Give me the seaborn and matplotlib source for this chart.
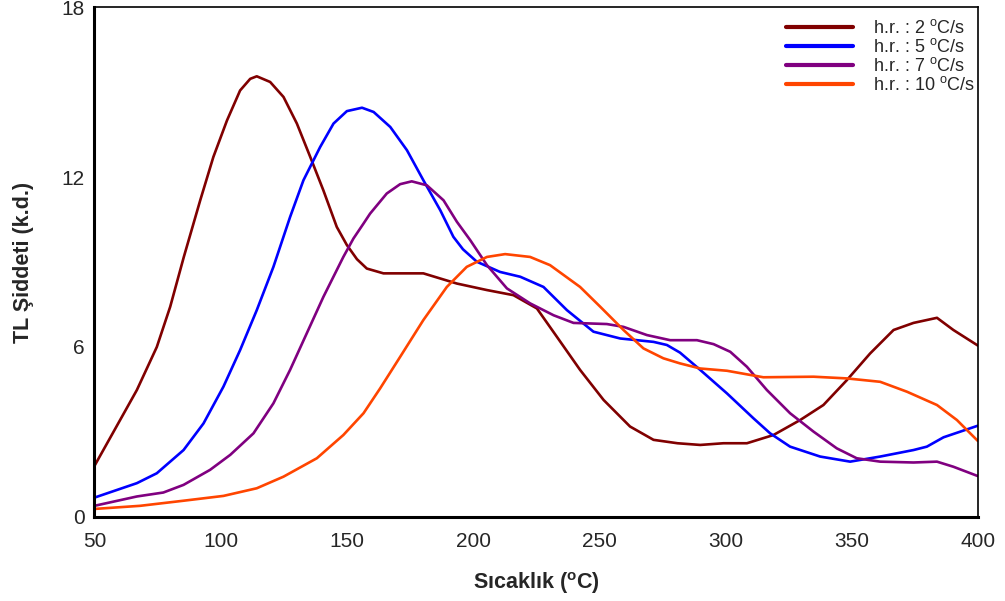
"""TL glow curves at different heating rates."""

import matplotlib.pyplot as plt
import numpy as np
import pandas as pd
import seaborn as sns
from matplotlib.ticker import MultipleLocator

# Data (temperature in C, TL intensity in a.u.)
x_hr2 = [50, 66.8, 74.7, 80, 85.4, 91.9, 97.1, 102.5, 107.7, 111.7, 114.3, 119.6,
         124.9, 130.2, 135.5, 140.7, 146, 150, 154, 157.9, 164.5, 180.3, 193.6,
         205.5, 216, 225.3, 233.2, 242.4, 251.7, 262.2, 271.5, 281, 290, 299.2,
         308.5, 319, 329.6, 338.8, 348.1, 357.3, 366.6, 374.5, 383.8, 390.3, 400]
y_hr2 = [1.80, 4.48, 6.0, 7.42, 9.18, 11.18, 12.71, 14.0, 15.06, 15.47, 15.56, 15.36,
         14.83, 13.89, 12.71, 11.53, 10.24, 9.60, 9.10, 8.77, 8.60, 8.60, 8.24,
         8.01, 7.83, 7.36, 6.36, 5.19, 4.13, 3.19, 2.72, 2.60, 2.54, 2.60,
         2.60, 2.89, 3.42, 3.95, 4.83, 5.77, 6.60, 6.85, 7.03, 6.60, 6.05]

x_hr5 = [50, 66.8, 74.7, 85.3, 93.2, 101.1, 107.7, 114.3, 120.9, 127.5, 132.8, 139.4,
         144.7, 150, 156, 160.6, 167.2, 173.8, 180.3, 187, 192.2, 196, 201.5, 210.7,
         218.7, 227.9, 237.2, 247.7, 258.3, 271.5, 276.8, 282, 290, 300.6, 311.1,
         317.7, 325.6, 337.5, 349.4, 361.3, 374.5, 379.8, 386.4, 400]
y_hr5 = [0.68, 1.19, 1.54, 2.36, 3.30, 4.60, 5.89, 7.30, 8.83, 10.59, 11.89, 13.06,
         13.89, 14.33, 14.45, 14.30, 13.77, 12.95, 11.89, 10.83, 9.89, 9.45, 9.01, 8.65,
         8.48, 8.12, 7.30, 6.54, 6.30, 6.18, 6.07, 5.80, 5.19, 4.36, 3.48,
         2.95, 2.48, 2.13, 1.95, 2.13, 2.36, 2.48, 2.81, 3.22]

x_hr7 = [50, 66.8, 77.3, 85.3, 95.8, 103.8, 113, 120.9, 127.5, 134.1, 140.7, 148.6,
         152.6, 156.6, 159.2, 165.8, 171.1, 175.7, 181.7, 188.3, 193.6, 198.9, 205.5,
         213.4, 222.6, 231.9, 239.8, 253, 259.6, 268.9, 278.1, 288.7, 295.3, 301.9,
         308.5, 316.4, 325.6, 334.9, 344.1, 352, 361.3, 374.5, 383.8, 390.3, 400]
y_hr7 = [0.39, 0.72, 0.86, 1.13, 1.66, 2.19, 2.95, 4.01, 5.19, 6.48, 7.77, 9.18,
         9.83, 10.36, 10.71, 11.42, 11.75, 11.85, 11.71, 11.18, 10.42, 9.77, 8.89,
         8.07, 7.54, 7.12, 6.85, 6.81, 6.71, 6.42, 6.24, 6.24, 6.10, 5.83,
         5.30, 4.48, 3.66, 3.01, 2.42, 2.07, 1.95, 1.92, 1.95, 1.77, 1.44]

x_hr10 = [50, 68.1, 85.3, 101.1, 114.3, 124.9, 138.1, 148.6, 156.6, 163.2, 171.1,
          180.3, 189.6, 197.5, 205.5, 212.7, 222.6, 230.5, 242.4, 250.4, 259.6,
          267.5, 275.4, 282, 290, 300.6, 315, 334.9, 348.1, 361.3, 371.9, 383.8,
          391.7, 400]
y_hr10 = [0.28, 0.39, 0.57, 0.74, 1.01, 1.42, 2.07, 2.89, 3.66, 4.54, 5.65,
          6.95, 8.12, 8.83, 9.18, 9.28, 9.18, 8.89, 8.12, 7.42, 6.60,
          5.95, 5.60, 5.42, 5.24, 5.16, 4.93, 4.95, 4.89, 4.77, 4.42, 3.95,
          3.42, 2.68]

labels = ["h.r. : 2 $^{\\mathrm{o}}$C/s", "h.r. : 5 $^{\\mathrm{o}}$C/s",
          "h.r. : 7 $^{\\mathrm{o}}$C/s", "h.r. : 10 $^{\\mathrm{o}}$C/s"]
colors = ["#800000", "#0000FF", "#800080", "#FF4500"]

# Long-form table for seaborn
series = [(x_hr2, y_hr2), (x_hr5, y_hr5), (x_hr7, y_hr7), (x_hr10, y_hr10)]
df = pd.concat(
    [pd.DataFrame({"T": xs, "TL": ys, "rate": lab}) for (xs, ys), lab in zip(series, labels)],
    ignore_index=True,
)

sns.set_style("white")
plt.rcParams["font.family"] = ["Liberation Sans", "DejaVu Sans"]
plt.rcParams["mathtext.fontset"] = "custom"
plt.rcParams["mathtext.rm"] = "Liberation Sans"
plt.rcParams["mathtext.bf"] = "Liberation Sans:bold"

fig, ax = plt.subplots(figsize=(10.05, 6.01), dpi=100)
fig.subplots_adjust(left=0.094, right=0.973, top=0.988, bottom=0.14)

sns.lineplot(
    data=df, x="T", y="TL", hue="rate", hue_order=labels,
    palette=dict(zip(labels, colors)), estimator=None, sort=True,
    linewidth=1.9, ax=ax,
)

ax.set_xlim(50, 400)
ax.set_ylim(0, 18)
ax.xaxis.set_major_locator(MultipleLocator(50))
ax.xaxis.set_minor_locator(MultipleLocator(25))
ax.yaxis.set_major_locator(MultipleLocator(6))
ax.yaxis.set_minor_locator(MultipleLocator(3))
ax.tick_params(which="major", direction="in", length=6, width=1.2, labelsize=15, pad=7)
ax.tick_params(axis="x", which="major", pad=11)
ax.tick_params(which="minor", direction="in", length=3, width=1.0)

for side, lw in [("left", 2.2), ("bottom", 2.2), ("top", 1.2), ("right", 1.2)]:
    ax.spines[side].set_visible(True)
    ax.spines[side].set_color("black")
    ax.spines[side].set_linewidth(lw)

ax.set_xlabel("Sıcaklık ($^{\\mathbf{o}}$C)", fontsize=15.5, fontweight="bold", labelpad=14)
ax.set_ylabel("TL Şiddeti (k.d.)", fontsize=15.5, fontweight="bold", labelpad=20)

handles, _ = ax.get_legend_handles_labels()
leg = ax.legend(
    handles, labels, loc="upper right", bbox_to_anchor=(1.015, 1.008),
    frameon=False, fontsize=13, handlelength=3.7, handletextpad=1.1,
    labelspacing=0.05,
)
for line in leg.get_lines():
    line.set_linewidth(3)

plt.savefig("out.png", dpi=100)
plt.close()
